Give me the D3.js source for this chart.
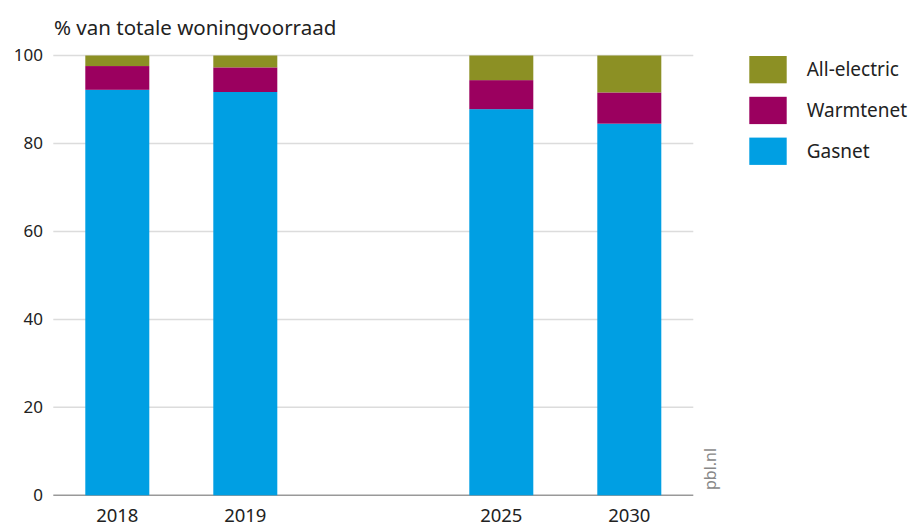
<!DOCTYPE html>
<html>
<head>
<meta charset="utf-8">
<script src="https://cdn.jsdelivr.net/npm/d3@7"></script>
<style>
  body { margin: 0; background: #fff; }
  svg { display: block; font-family: 'Noto Sans', sans-serif; }
</style>
</head>
<body>
<div id="chart"></div>
<script>
const slots = ['2018', '2019', '', '2025', '2030'];
const years = ['2018', '2019', '2025', '2030'];
const gasnet = [92.2, 91.7, 87.8, 84.5];
const warmtenet = [5.4, 5.6, 6.6, 7.1];
const allElectric = [2.4, 2.7, 5.6, 8.4];
const yTicks = [0, 20, 40, 60, 80, 100];

const series = [
  { key: 'gasnet', label: 'Gasnet', color: '#009fe3', values: gasnet },
  { key: 'warmtenet', label: 'Warmtenet', color: '#9b005f', values: warmtenet },
  { key: 'allElectric', label: 'All-electric', color: '#8c9024', values: allElectric }
];

const width = 919;
const height = 526;

const svg = d3.select('#chart').append('svg')
  .attr('width', width)
  .attr('height', height);

const x = d3.scaleBand()
  .domain(slots)
  .range([53.3, 693.3])
  .paddingInner(0.5)
  .paddingOuter(0.25);

const y = d3.scaleLinear()
  .domain([0, 100])
  .range([495.3, 55.5]);

// gridlines
svg.append('g')
  .selectAll('line')
  .data(yTicks)
  .join('line')
  .attr('x1', 53.3)
  .attr('x2', 693.3)
  .attr('y1', d => y(d))
  .attr('y2', d => y(d))
  .attr('stroke', d => d === 0 ? '#999' : '#dcdcdc')
  .attr('stroke-width', 1.5);

// y labels
svg.append('g')
  .selectAll('text')
  .data(yTicks)
  .join('text')
  .attr('x', 43)
  .attr('y', d => y(d))
  .attr('dy', '0.35em')
  .attr('text-anchor', 'end')
  .attr('fill', '#222')
  .style('font-size', '17px')
  .text(d => d);

// stacked bars
const rows = years.map((yr, i) => {
  const r = { year: yr };
  series.forEach(s => { r[s.key] = s.values[i]; });
  return r;
});
const stack = d3.stack().keys(series.map(s => s.key))(rows);

svg.append('g')
  .selectAll('g')
  .data(stack)
  .join('g')
  .attr('fill', (d, i) => series[i].color)
  .selectAll('rect')
  .data(d => d)
  .join('rect')
  .attr('x', d => x(d.data.year))
  .attr('width', x.bandwidth())
  .attr('y', d => y(d[1]))
  .attr('height', d => y(d[0]) - y(d[1]));

// x labels
svg.append('g')
  .selectAll('text')
  .data(years)
  .join('text')
  .attr('x', d => x(d) + x.bandwidth() / 2)
  .attr('y', 522)
  .attr('text-anchor', 'middle')
  .attr('fill', '#222')
  .style('font-size', '18.5px')
  .text(d => d);

// title
svg.append('text')
  .attr('x', 54)
  .attr('y', 34.5)
  .attr('fill', '#222')
  .style('font-size', '20.5px')
  .text('% van totale woningvoorraad');

// legend
const legendItems = series.slice().reverse();
const legend = svg.append('g')
  .selectAll('g')
  .data(legendItems)
  .join('g')
  .attr('transform', (d, i) => `translate(749.3, ${56 + i * 40.8})`);

legend.append('rect')
  .attr('width', 37.4)
  .attr('height', 27.3)
  .attr('fill', d => d.color);

legend.append('text')
  .attr('x', 57.4)
  .attr('y', 13.6)
  .attr('dy', '0.35em')
  .attr('fill', '#222')
  .style('font-size', '19px')
  .text(d => d.label);

// source
svg.append('text')
  .attr('transform', 'translate(716, 490) rotate(-90)')
  .attr('fill', '#888')
  .style('font-size', '16px')
  .text('pbl.nl');
</script>
</body>
</html>
